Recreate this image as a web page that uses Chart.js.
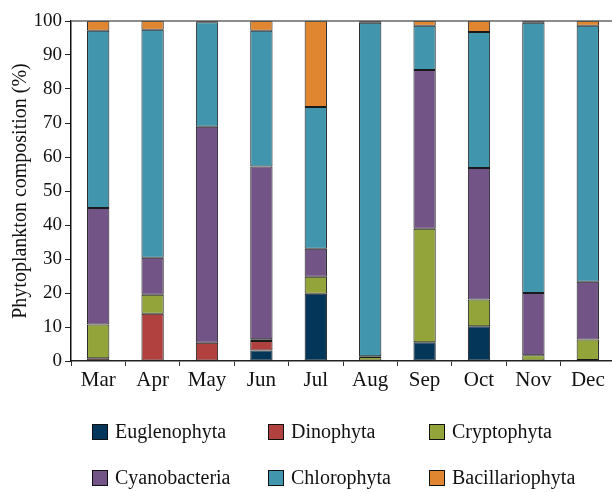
<!DOCTYPE html>
<html>
<head>
<meta charset="utf-8">
<script src="https://cdn.jsdelivr.net/npm/chart.js@4/dist/chart.umd.min.js"></script>
<style>
  html, body { margin: 0; padding: 0; background: #fff; overflow: hidden; width: 612px; height: 492px; }
  #wrap { position: relative; width: 616px; height: 396px; }
  #legend { position: absolute; left: 0; top: 0; width: 612px; height: 492px; pointer-events: none;
            font-family: "Liberation Serif", "DejaVu Serif", serif; font-size: 20px; color: #111; }
  .item { position: absolute; display: flex; align-items: center; white-space: nowrap; }
  .box { width: 14px; height: 14px; border: 1.5px solid #111; margin-right: 7px; }
</style>
</head>
<body>
<div id="wrap"><canvas id="chart" width="616" height="396"></canvas></div>
<div id="legend"></div>
<script>
// Months on the x axis
const months = ["Mar", "Apr", "May", "Jun", "Jul", "Aug", "Sep", "Oct", "Nov", "Dec"];

// Composition (%) for each group
const euglenophyta    = [0,    0,    0,    3.1,  19.8, 0,    5.5,  10.2, 0,    0.3];
const dinophyta       = [0.8,  13.9, 5.4,  2.8,  0,    0,    0,    0,    0,    0];
const cryptophyta     = [9.9,  5.6,  0,    0.5,  5.0,  1.2,  33.4, 7.9,  1.7,  6.0];
const cyanobacteria   = [34.3, 10.9, 63.5, 50.8, 8.2,  0.2,  46.7, 38.7, 18.3, 17.0];
const chlorophyta     = [52.1, 67.0, 30.7, 39.9, 41.7, 98.1, 13.0, 40.0, 79.5, 75.3];
const bacillariophyta = [2.9,  2.6,  0.4,  2.9,  25.3, 0.5,  1.4,  3.2,  0.5,  1.4];

const yTicks = [0, 10, 20, 30, 40, 50, 60, 70, 80, 90, 100];

const groups = [
    { label: "Euglenophyta",    data: euglenophyta,    color: "#033658" },
    { label: "Dinophyta",       data: dinophyta,       color: "#b0413e" },
    { label: "Cryptophyta",     data: cryptophyta,     color: "#93a43a" },
    { label: "Cyanobacteria",   data: cyanobacteria,   color: "#735487" },
    { label: "Chlorophyta",     data: chlorophyta,     color: "#4195ad" },
    { label: "Bacillariophyta", data: bacillariophyta, color: "#e08530" },
];

const serif = "'Liberation Serif', 'DejaVu Serif', serif";

// grey line along the top of the plot area
const topLine = {
    id: "topLine",
    afterDraw(chart) {
        const { ctx, chartArea } = chart;
        ctx.save();
        ctx.strokeStyle = "#666";
        ctx.lineWidth = 1.5;
        ctx.beginPath();
        ctx.moveTo(chartArea.left, chartArea.top);
        ctx.lineTo(chartArea.right + 5, chartArea.top);
        ctx.stroke();
        ctx.restore();
    }
};

const ctx = document.getElementById("chart").getContext("2d");
new Chart(ctx, {
    type: "bar",
    data: {
        labels: months,
        datasets: groups.map(g => ({
            label: g.label,
            data: g.data,
            backgroundColor: g.color,
            borderColor: "#1a1a1a",
            borderWidth: 1,
            borderSkipped: false,
            barPercentage: 0.41,
            categoryPercentage: 1.0,
        })),
    },
    options: {
        responsive: false,
        animation: false,
        layout: { padding: { top: 21, right: 1, left: 0, bottom: 0 } },
        plugins: {
            legend: { display: false },
            tooltip: { enabled: false },
        },
        scales: {
            x: {
                stacked: true,
                grid: { display: true, drawOnChartArea: false, drawTicks: true, tickLength: 5, offset: true, color: "#333" },
                border: { display: true, color: "#222", width: 1.5 },
                ticks: { color: "#111", font: { family: serif, size: 21 }, padding: 2 },
                afterFit(scale) { scale.height = 35; },
            },
            y: {
                stacked: true,
                min: 0,
                max: 100,
                afterBuildTicks(scale) { scale.ticks = yTicks.map(v => ({ value: v })); },
                grid: { display: true, drawOnChartArea: false, drawTicks: true, tickLength: 6, color: "#222" },
                border: { display: true, color: "#111", width: 1.5 },
                ticks: { color: "#111", font: { family: serif, size: 19 }, padding: 3 },
                title: {
                    display: true,
                    text: "Phytoplankton composition (%)",
                    color: "#111",
                    font: { family: serif, size: 20 },
                    padding: { top: 9, bottom: 0 },
                },
                afterFit(scale) { scale.width = 71; },
            },
        },
    },
    plugins: [topLine],
});

// legend in 3 columns, 2 rows
const legendPos = [
    [92, 432], [268, 432], [429, 432],
    [92, 478], [268, 478], [429, 478],
];
const legend = document.getElementById("legend");
groups.forEach((g, i) => {
    const item = document.createElement("div");
    item.className = "item";
    item.style.left = legendPos[i][0] + "px";
    item.style.top = (legendPos[i][1] - 12) + "px";
    const box = document.createElement("span");
    box.className = "box";
    box.style.background = g.color;
    const txt = document.createElement("span");
    txt.textContent = g.label;
    item.appendChild(box);
    item.appendChild(txt);
    legend.appendChild(item);
});
</script>
</body>
</html>
